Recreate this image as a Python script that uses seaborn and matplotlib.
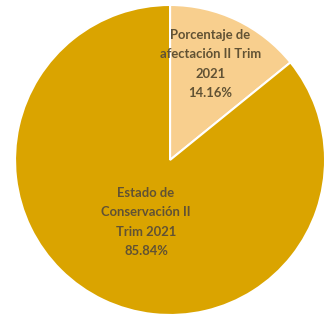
import matplotlib
matplotlib.use("Agg")
import matplotlib.pyplot as plt
import seaborn as sns

# Data
labels = ["Porcentaje de\nafectación II Trim\n2021", "Estado de\nConservación II\nTrim 2021"]
values = [14.16, 85.84]
colors = ["#F8CF8E", "#DAA400"]

sns.set_theme(style="white")
plt.rcParams["font.family"] = ["Lato", "DejaVu Sans"]

fig = plt.figure(figsize=(3.27, 3.18), dpi=100)
ax = fig.add_axes([0.046, 0.0094, 0.948, 0.975])

wedges, texts = ax.pie(values, colors=colors, startangle=90, counterclock=False,
                       wedgeprops=dict(edgecolor="white", linewidth=1.5))
ax.set_xlim(-1, 1)
ax.set_ylim(-1, 1)

# Labels placed where the reference puts them
label_pos = [(0.26, 0.62), (-0.155, -0.40)]
for txt, lab, val, pos in zip(texts, labels, values, label_pos):
    txt.set_visible(False)
    ax.text(pos[0], pos[1], f"{lab}\n{val:.2f}%", ha="center", va="center",
            fontsize=9.4, fontweight="bold", color="#615234", linespacing=1.75)

fig.savefig("out.png", dpi=100, facecolor="white")
